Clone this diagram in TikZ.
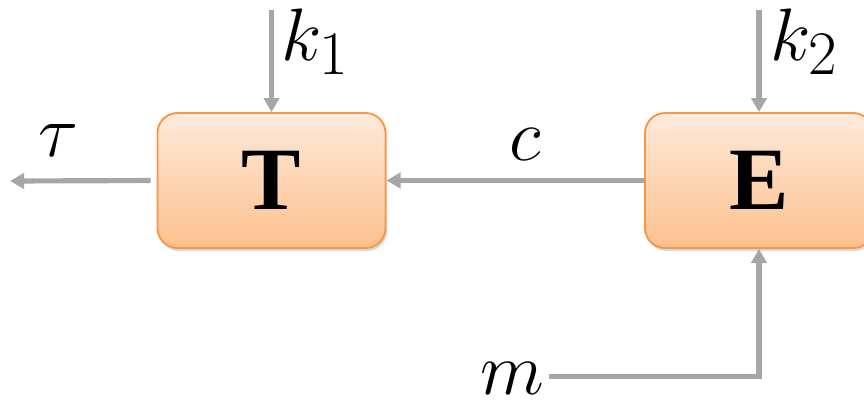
\documentclass[tikz,border=0pt]{standalone}
\usepackage{graphicx}
\usepackage{fontspec}
\usepackage{xcolor}
\usepackage{tikz}
\usetikzlibrary{arrows.meta,positioning,shadows}
\newfontfamily\boxfont{Liberation Serif}
\definecolor{linec}{HTML}{A6A6A6}
\definecolor{edgec}{HTML}{F79646}
\definecolor{topc}{HTML}{FDEADB}
\definecolor{botc}{HTML}{FDC08D}
\tikzset{
  ar/.style={-{Triangle[length=12pt,width=13pt]},line width=4.4pt,linec},
  box/.style={draw=edgec,line width=1.6pt,rounded corners=17pt,top color=topc,bottom color=botc,
    minimum width=6.84cm,minimum height=4.05cm,
    drop shadow={opacity=0.3,shadow xshift=0.5mm,shadow yshift=-0.9mm},
    font=\boxfont\bfseries\fontsize{76}{80}\selectfont},
  lbl/.style={font=\Huge,scale=2.55,inner sep=0pt}
}
\begin{document}
\begin{tikzpicture}[x=0.03cm,y=-0.03cm]
\useasboundingbox (0,0) rectangle (864,408);
% blocks
\node[box] (T) at (271.5,180.5) {T};
\node[box] (E) at (759,180.5) {E};
% free ends
\coordinate (tauend) at (10,181);
\coordinate (k1top) at (T.north |- 0,10);
\coordinate (k2top) at (E.north |- 0,10);
% labels
\node[lbl] (tau) at (58,140) {$\tau$};
\node[lbl] (c) at (525,144) {$c$};
\node[lbl,anchor=west] (k1) at (281,42) {$k_1$};
\node[lbl,anchor=west] (k2) at (770,42) {$k_2$};
\node[lbl,anchor=east] (m) at (545,378) {$m$};
% connectors
\draw[ar,shorten <=5pt] (T.west) -- (tauend);
\draw[ar] (E.west) -- (T.east);
\draw[ar] (k1top) -- (T.north);
\draw[ar] (k2top) -- (E.north);
\draw[ar] ([xshift=3pt,yshift=1.5pt]m.east) -| (E.south);
\end{tikzpicture}
\end{document}
